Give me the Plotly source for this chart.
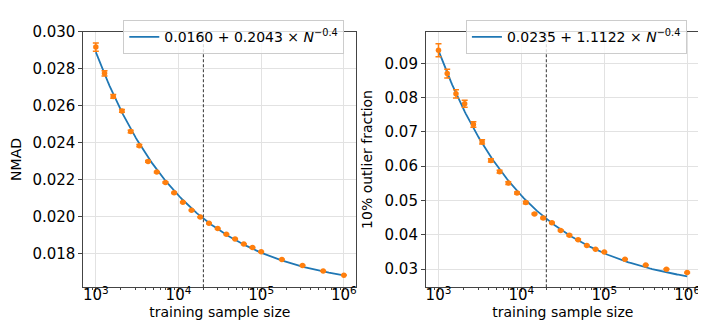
import numpy as np
import plotly.graph_objects as go

# training sample sizes (shared by both panels)
sample_size = [1000, 1274, 1624, 2069, 2637, 3360, 4281, 5456, 6952, 8859,
               11288, 14384, 18330, 23357, 29764, 37927, 48329, 61585, 78476,
               100000, 177828, 316228, 562341, 1000000]

# left panel: NMAD
nmad = [0.02916, 0.02774, 0.02649, 0.02571, 0.02460, 0.02383, 0.02298, 0.02240,
        0.02184, 0.02128, 0.02077, 0.02034, 0.01997, 0.01963, 0.01935, 0.01904,
        0.01879, 0.01851, 0.01832, 0.01809, 0.01768, 0.01735, 0.01705, 0.01683]
nmad_err = [0.00022, 0.00014, 0.00010, 0.00008, 0.00007, 0.00006, 0.00005, 0.00004,
            0.00004, 0.00003, 0.00003, 0.00003, 0.00002, 0.00002, 0.00002, 0.00002,
            0.00002, 0.00002, 0.00002, 0.00002, 0.00001, 0.00001, 0.00001, 0.00001]
nmad_fit = (0.0160, 0.2043, -0.4)

# right panel: 10% outlier fraction
outlier = [0.0938, 0.0870, 0.0811, 0.0782, 0.0722, 0.0671, 0.0617, 0.0584,
           0.0551, 0.0522, 0.0494, 0.0461, 0.0449, 0.0435, 0.0413, 0.0399,
           0.0386, 0.0369, 0.0358, 0.0350, 0.0329, 0.0312, 0.0300, 0.0290]
outlier_err = [0.0019, 0.0013, 0.0012, 0.0010, 0.0008, 0.0006, 0.0005, 0.0004,
               0.0004, 0.0003, 0.0003, 0.0002, 0.0002, 0.0002, 0.0002, 0.0002,
               0.0002, 0.0001, 0.0001, 0.0001, 0.0001, 0.0001, 0.0001, 0.0001]
outlier_fit = (0.0235, 1.1122, -0.4)

cut_size = 20000
decades = [3, 4, 5, 6]

FONT = "DejaVu Sans"
SPINE = "#444444"
GRID = "#e2e2e2"
BLUE = "#1f77b4"
ORANGE = "#ff7f0e"

n_curve = np.logspace(3, 6, 200)

fig = go.Figure()

panels = [
    dict(xa="x", ya="y", leg="legend", y=nmad, err=nmad_err, fit=nmad_fit),
    dict(xa="x2", ya="y2", leg="legend2", y=outlier, err=outlier_err, fit=outlier_fit),
]

for p in panels:
    a, b, k = p["fit"]
    label = f"{a:.4f} + {b:.4f} × <i>N</i><sup>−0.4</sup>"
    fig.add_trace(go.Scatter(
        x=n_curve, y=a + b * n_curve ** k, mode="lines",
        line=dict(color=BLUE, width=1.8), name=label,
        xaxis=p["xa"], yaxis=p["ya"], legend=p["leg"],
    ))
    fig.add_trace(go.Scatter(
        x=sample_size, y=p["y"], mode="markers",
        marker=dict(color=ORANGE, size=5.5),
        error_y=dict(type="data", array=p["err"], color=ORANGE, thickness=1.5, width=3),
        showlegend=False, xaxis=p["xa"], yaxis=p["ya"],
    ))
    fig.add_shape(type="line", x0=cut_size, x1=cut_size, y0=0, y1=1,
                  xref=p["xa"], yref=p["ya"] + " domain",
                  line=dict(color="#444444", width=1.1, dash="3px,2px"))

minor_vals = [m * 10 ** d for d in [2, 3, 4, 5, 6] for m in range(2, 10)]
xaxis_style = dict(
    type="log", range=[2.85, 6.15],
    tickvals=[10 ** d for d in decades],
    ticktext=[f"10<sup>{d}</sup>" for d in decades],
    ticks="outside", ticklen=4, tickcolor=SPINE, ticklabelstandoff=-10,
    minor=dict(tickvals=minor_vals, ticks="outside", ticklen=2, tickcolor=SPINE, showgrid=False),
    showline=True, linecolor=SPINE, linewidth=1.2, mirror=True,
    showgrid=True, gridcolor=GRID, gridwidth=1,
    title=dict(text="training sample size", font=dict(size=14), standoff=0),
    tickfont=dict(size=15), zeroline=False,
)
yaxis_style = dict(
    ticks="outside", ticklen=4, tickcolor=SPINE,
    showline=True, linecolor=SPINE, linewidth=1.2, mirror=True,
    showgrid=True, gridcolor=GRID, gridwidth=1,
    tickfont=dict(size=15), zeroline=False,
)

fig.update_layout(
    width=706, height=332,
    margin=dict(l=0, r=0, t=0, b=0),
    paper_bgcolor="white", plot_bgcolor="white",
    font=dict(family=FONT, size=14, color="black"),
    xaxis=dict(domain=[0.107, 0.494], anchor="y", **xaxis_style),
    xaxis2=dict(domain=[0.593, 0.981], anchor="y2", **xaxis_style),
    yaxis=dict(domain=[0.163, 0.955], anchor="x", range=[0.01617, 0.0300],
               tickvals=[0.018, 0.020, 0.022, 0.024, 0.026, 0.028, 0.030],
               tickformat=".3f",
               title=dict(text="NMAD", font=dict(size=14), standoff=9), **yaxis_style),
    yaxis2=dict(domain=[0.163, 0.955], anchor="x2", range=[0.0247, 0.09926],
                tickvals=[0.03, 0.04, 0.05, 0.06, 0.07, 0.08, 0.09],
                tickformat=".2f",
                title=dict(text="10% outlier fraction", font=dict(size=14), standoff=8), **yaxis_style),
    legend=dict(x=0.477, xanchor="right", y=0.99, yanchor="top",
                bgcolor="rgba(255,255,255,0.8)", bordercolor="#cccccc", borderwidth=1,
                font=dict(size=14)),
    legend2=dict(x=0.963, xanchor="right", y=0.99, yanchor="top",
                 bgcolor="rgba(255,255,255,0.8)", bordercolor="#cccccc", borderwidth=1,
                 font=dict(size=14)),
)

fig.write_html("out.html")
